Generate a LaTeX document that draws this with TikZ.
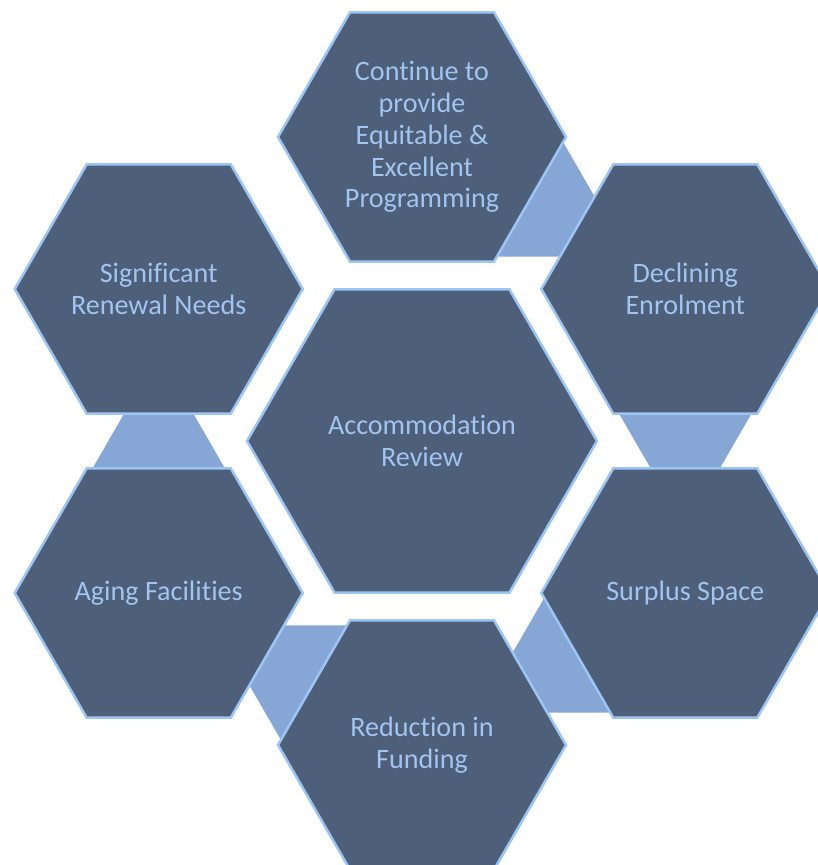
\documentclass[tikz,border=0pt]{standalone}
\usepackage{fontspec}
\setmainfont{Carlito}[Ligatures=NoCommon]
\usetikzlibrary{shapes.geometric,calc,backgrounds}
\definecolor{hexfill}{HTML}{4E5F7A}
\definecolor{hexline}{HTML}{9CC4F4}
\definecolor{hextext}{HTML}{A2C4F0}
\definecolor{linkfill}{HTML}{86A6D6}
\tikzset{
    hexa/.style={
           regular polygon,
           regular polygon sides=6,
           draw=hexline, line width=1.8pt,
           fill=hexfill,
           minimum size=7.2cm,
           inner sep=0pt,
           text=hextext,
           align=center,
           font=\fontsize{20}{22.6}\selectfont,
           },
    link/.style={
           fill=linkfill,
           },
}

\begin{document}
\begin{tikzpicture}
    \useasboundingbox (-10.55,-10.6) rectangle (9.9,11.025);
    % centre: the review itself
    \node[hexa,
    minimum size=8.75cm] (review) 	% bigger than the ring
    at (0,0) {Accommodation\\Review};

    % ring of six, clockwise from the top
    \node[hexa] (programming) at (90:7.6) {Continue to\\provide\\Equitable \&\\Excellent\\Programming};
    \node[hexa] (enrolment) at (30:7.6) {Declining\\Enrolment};
    \node[hexa] (surplus) at (-30:7.6) {Surplus Space};
    \node[hexa] (funding) at (-90:7.6) {Reduction in\\Funding};
    \node[hexa] (aging) at (210:7.6) {Aging Facilities};
    \node[hexa] (renewal) at (150:7.6) {Significant\\Renewal Needs};

    % links between neighbours: wide at the first, narrow at the second
    \begin{scope}[on background layer]
    \foreach \from/\to in {programming/enrolment, enrolment/surplus, surplus/funding, funding/aging, aging/renewal}
        \fill[link] let \p1=($(\to)-(\from)$), \n1={atan2(\y1,\x1)} in
            ($(\from)+(\n1:3.02)+(\n1+90:1.71)$) -- ($(\from)+(\n1:4.58)+(\n1+90:0.81)$)
            -- ($(\from)+(\n1:4.58)+(\n1-90:0.81)$) -- ($(\from)+(\n1:3.02)+(\n1-90:1.71)$) -- cycle;
    \end{scope}
\end{tikzpicture}
\end{document}
